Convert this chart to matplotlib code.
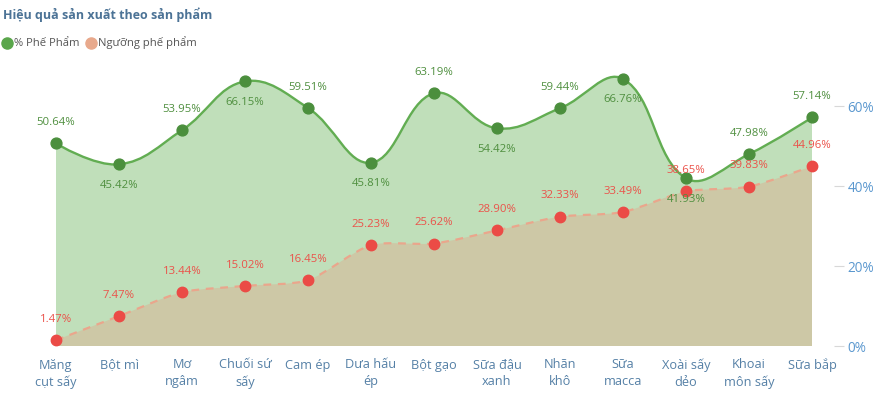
import numpy as np
import matplotlib
matplotlib.use("Agg")
import matplotlib.pyplot as plt
from matplotlib.path import Path
from matplotlib.patches import PathPatch
from matplotlib.lines import Line2D

plt.rcParams['font.family'] = ['Open Sans', 'DejaVu Sans']

# data
categories = ["Măng\ncụt sấy", "Bột mì", "Mơ\nngâm", "Chuối sứ\nsấy", "Cam ép",
              "Dưa hấu\nép", "Bột gạo", "Sữa đậu\nxanh", "Nhãn\nkhô", "Sữa\nmacca",
              "Xoài sấy\ndẻo", "Khoai\nmôn sấy", "Sữa bắp"]
phe_pham = [50.64, 45.42, 53.95, 66.15, 59.51, 45.81, 63.19, 54.42, 59.44, 66.76, 41.93, 47.98, 57.14]
nguong = [1.47, 7.47, 13.44, 15.02, 16.45, 25.23, 25.62, 28.90, 32.33, 33.49, 38.65, 39.83, 44.96]
# label above (True) or below (False) the green points
green_above = [True, False, True, False, True, False, True, False, True, False, False, True, True]
yticks = [0, 20, 40, 60]

W, H = 876, 398
fig = plt.figure(figsize=(W / 100, H / 100), dpi=100)
x0, x1, ybot, ytop = 24.5, 843.5, 346, 60
ax = fig.add_axes([x0 / W, (H - ybot) / H, (x1 - x0) / W, (ybot - ytop) / H])
ax.set_xlim(-0.5, len(categories) - 0.5)
ax.set_ylim(0, (ybot - ytop) / 4.0)

GREEN_LINE = '#62ad52'
GREEN_DOT = '#4b8f3d'
GREEN_FILL = '#c0dfba'
KHAKI = '#cdc8a6'
SALMON = '#eaa68c'
RED_DOT = '#eb4b46'


def smooth_path(xs, ys, smooth, sx=63.0, sy=4.0):
    # bezier through the points, control points like a smoothed line chart
    p = np.column_stack([np.asarray(xs, float) * sx, np.asarray(ys, float) * sy])
    n = len(p)
    verts = [p[0]]
    codes = [Path.MOVETO]
    cps_in, cps_out = [None] * n, [None] * n
    for i in range(n):
        if i == 0 or i == n - 1:
            cps_in[i] = p[i]
            cps_out[i] = p[i]
            continue
        v = (p[i + 1] - p[i - 1]) * smooth
        d0 = np.hypot(*(p[i] - p[i - 1]))
        d1 = np.hypot(*(p[i + 1] - p[i]))
        cps_in[i] = p[i] - v * d0 / (d0 + d1)
        cps_out[i] = p[i] + v * d1 / (d0 + d1)
    for i in range(1, n):
        verts += [cps_out[i - 1], cps_in[i], p[i]]
        codes += [Path.CURVE4] * 3
    verts = np.array(verts) / np.array([sx, sy])
    return verts, codes


idx = np.arange(len(categories))

gv, gc = smooth_path(idx, phe_pham, 0.4)
rv, rc = smooth_path(idx, nguong, 0.25)


def area(verts, codes):
    v = np.vstack([verts, [[verts[-1][0], 0], [verts[0][0], 0], verts[0]]])
    c = list(codes) + [Path.LINETO, Path.LINETO, Path.CLOSEPOLY]
    return Path(v, c)


ax.add_patch(PathPatch(area(gv, gc), facecolor=GREEN_FILL, edgecolor='none', zorder=1))
ax.add_patch(PathPatch(area(rv, rc), facecolor=KHAKI, edgecolor='none', zorder=2))
ax.add_patch(PathPatch(Path(gv, gc), facecolor='none', edgecolor=GREEN_LINE, lw=1.7, zorder=3))
ax.add_patch(PathPatch(Path(rv, rc), facecolor='none', edgecolor=SALMON, lw=1.6,
                       linestyle=(0, (3.5, 3)), zorder=3))

ax.plot(idx, phe_pham, 'o', color=GREEN_DOT, ms=7.8, zorder=5, clip_on=False)
ax.plot(idx, nguong, 'o', color=RED_DOT, ms=7.5, zorder=5, clip_on=False)

for i, v in enumerate(phe_pham):
    off = 15 if green_above[i] else -15
    ax.annotate(f"{v:.2f}%", (i, v), xytext=(0, off), textcoords='offset points',
                ha='center', va='center', fontsize=8.2, color='#4f8f3f', zorder=6)
for i, v in enumerate(nguong):
    ax.annotate(f"{v:.2f}%", (i, v), xytext=(0, 15), textcoords='offset points',
                ha='center', va='center', fontsize=8.2, color='#eb524a', zorder=6)

ax.set_xticks(idx)
ax.set_xticklabels(categories, fontsize=9.2, color='#5580a6', linespacing=1.35, va='top')
ax.tick_params(axis='x', length=0, pad=9)
ax.yaxis.tick_right()
ax.set_yticks(yticks)
ax.set_yticklabels([f"{t}%" for t in yticks], fontsize=9.8, color='#5b98cf')
ax.tick_params(axis='y', direction='in', length=7, width=0.8, color='#d8d8d8', pad=3)
for s in ax.spines.values():
    s.set_visible(False)

fig.text(3 / W, 1 - 15 / H, "Hiệu quả sản xuất theo sản phẩm", fontsize=9,
         fontweight='bold', color='#4c7396', va='center', ha='left')

ly = 1 - 43 / H
fig.add_artist(Line2D([7 / W], [ly], marker='o', ms=8, color='#5aa64b', transform=fig.transFigure))
fig.text(14 / W, ly, "% Phế Phẩm", fontsize=8.1, color='#555555', va='center', ha='left')
fig.add_artist(Line2D([91 / W], [ly], marker='o', ms=8, color='#e8a98c', transform=fig.transFigure))
fig.text(98 / W, ly, "Ngưỡng phế phẩm", fontsize=8.1, color='#555555', va='center', ha='left')

fig.savefig("out.png", dpi=100)
